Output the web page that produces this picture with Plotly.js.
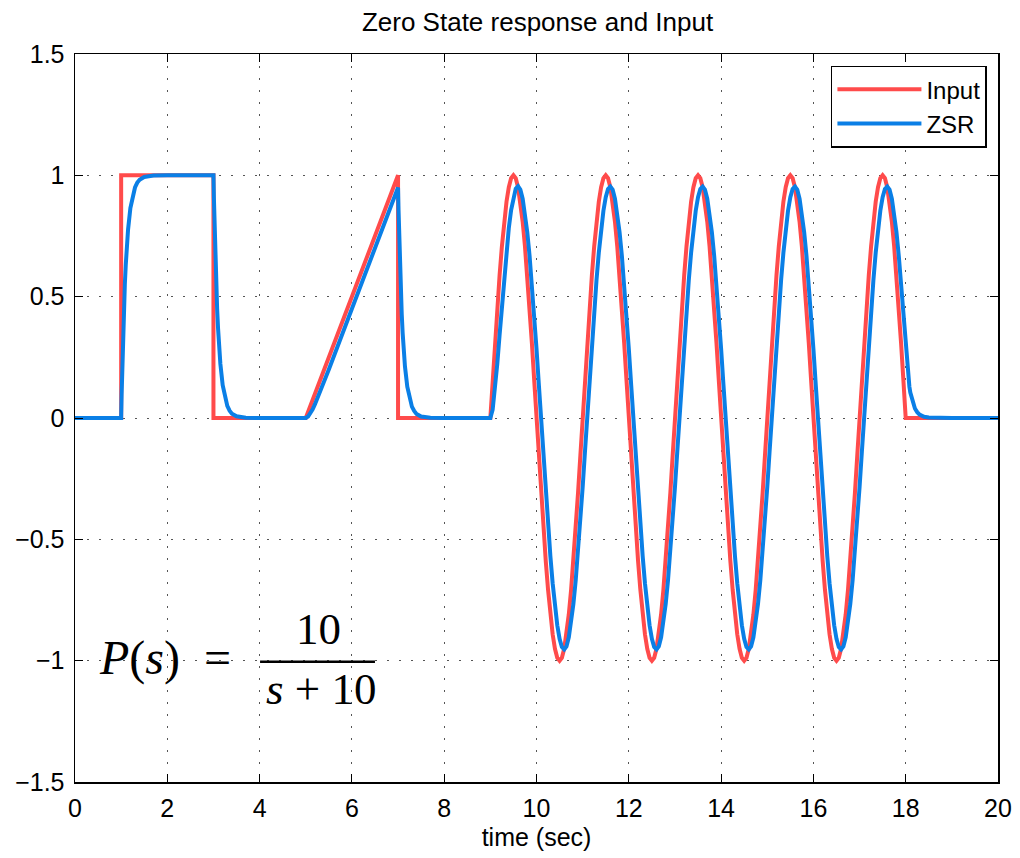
<!DOCTYPE html>
<html>
<head>
<meta charset="utf-8">
<script src="https://cdn.plot.ly/plotly-3.0.1.min.js"></script>
<style>html,body{margin:0;padding:0;background:#fff;}#chart{width:1020px;height:858px;}</style>
</head>
<body>
<div id="chart"></div>
<script>
// ---- Data ----
// Input: piecewise part (step, ramp) before the sinusoid
const tInputA = [0, 1, 1, 3, 3, 5, 7, 7];
const inputA  = [0, 0, 1, 1, 0, 0, 1, 0];
// Common time base for the sinusoidal section (9 s .. 18 s)
const tSine = [
  9,9.05,9.1,9.15,9.2,9.25,9.3,9.35,9.4,9.45,9.5,9.55,9.6,9.65,9.7,9.75,9.8,9.85,9.9,9.95,
  10,10.05,10.1,10.15,10.2,10.25,10.3,10.35,10.4,10.45,10.5,10.55,10.6,10.65,10.7,10.75,10.8,10.85,10.9,10.95,
  11,11.05,11.1,11.15,11.2,11.25,11.3,11.35,11.4,11.45,11.5,11.55,11.6,11.65,11.7,11.75,11.8,11.85,11.9,11.95,
  12,12.05,12.1,12.15,12.2,12.25,12.3,12.35,12.4,12.45,12.5,12.55,12.6,12.65,12.7,12.75,12.8,12.85,12.9,12.95,
  13,13.05,13.1,13.15,13.2,13.25,13.3,13.35,13.4,13.45,13.5,13.55,13.6,13.65,13.7,13.75,13.8,13.85,13.9,13.95,
  14,14.05,14.1,14.15,14.2,14.25,14.3,14.35,14.4,14.45,14.5,14.55,14.6,14.65,14.7,14.75,14.8,14.85,14.9,14.95,
  15,15.05,15.1,15.15,15.2,15.25,15.3,15.35,15.4,15.45,15.5,15.55,15.6,15.65,15.7,15.75,15.8,15.85,15.9,15.95,
  16,16.05,16.1,16.15,16.2,16.25,16.3,16.35,16.4,16.45,16.5,16.55,16.6,16.65,16.7,16.75,16.8,16.85,16.9,16.95,
  17,17.05,17.1,17.15,17.2,17.25,17.3,17.35,17.4,17.45,17.5,17.55,17.6,17.65,17.7,17.75,17.8,17.85,17.9,17.95,
  18
];
const inputSine = [
  0,0.156,0.309,0.454,0.588,0.707,0.809,0.891,0.951,0.988,1,0.988,0.951,0.891,0.809,0.707,0.588,0.454,0.309,0.156,
  0,-0.156,-0.309,-0.454,-0.588,-0.707,-0.809,-0.891,-0.951,-0.988,-1,-0.988,-0.951,-0.891,-0.809,-0.707,-0.588,-0.454,-0.309,-0.156,
  0,0.156,0.309,0.454,0.588,0.707,0.809,0.891,0.951,0.988,1,0.988,0.951,0.891,0.809,0.707,0.588,0.454,0.309,0.156,
  0,-0.156,-0.309,-0.454,-0.588,-0.707,-0.809,-0.891,-0.951,-0.988,-1,-0.988,-0.951,-0.891,-0.809,-0.707,-0.588,-0.454,-0.309,-0.156,
  0,0.156,0.309,0.454,0.588,0.707,0.809,0.891,0.951,0.988,1,0.988,0.951,0.891,0.809,0.707,0.588,0.454,0.309,0.156,
  0,-0.156,-0.309,-0.454,-0.588,-0.707,-0.809,-0.891,-0.951,-0.988,-1,-0.988,-0.951,-0.891,-0.809,-0.707,-0.588,-0.454,-0.309,-0.156,
  0,0.156,0.309,0.454,0.588,0.707,0.809,0.891,0.951,0.988,1,0.988,0.951,0.891,0.809,0.707,0.588,0.454,0.309,0.156,
  0,-0.156,-0.309,-0.454,-0.588,-0.707,-0.809,-0.891,-0.951,-0.988,-1,-0.988,-0.951,-0.891,-0.809,-0.707,-0.588,-0.454,-0.309,-0.156,
  0,0.156,0.309,0.454,0.588,0.707,0.809,0.891,0.951,0.988,1,0.988,0.951,0.891,0.809,0.707,0.588,0.454,0.309,0.156,
  0
];
const tInputB = [20];
const inputB  = [0];

// Zero state response: step and ramp section
const tZsrA = [0,1,1.01,1.02,1.03,1.04,1.05,1.06,1.08,1.1,1.12,1.15,1.2,1.25,1.3,1.35,1.4,1.5,1.7,2,
  3,3.01,3.02,3.03,3.04,3.05,3.06,3.08,3.1,3.12,3.15,3.2,3.25,3.3,3.35,3.4,3.5,3.7,4,
  5,5.05,5.1,5.15,5.2,5.3,5.4,5.5,6,6.5,7,
  7.01,7.02,7.03,7.04,7.05,7.06,7.08,7.1,7.12,7.15,7.2,7.25,7.3,7.35,7.4,7.5,7.7,8];
const zsrA = [0,0,0.095,0.181,0.259,0.330,0.393,0.451,0.551,0.632,0.699,0.777,0.865,0.918,0.950,0.970,0.982,0.993,0.999,1,
  1,0.905,0.819,0.741,0.670,0.607,0.549,0.449,0.368,0.301,0.223,0.135,0.082,0.050,0.030,0.018,0.007,0.001,0,
  0,0.006,0.018,0.036,0.057,0.103,0.151,0.200,0.450,0.700,0.950,
  0.860,0.778,0.704,0.637,0.576,0.521,0.427,0.350,0.286,0.212,0.129,0.078,0.047,0.029,0.017,0.006,0.001,0];
// Zero state response over the sinusoid (same times as tSine)
const zsrSine = [
  0,0.034,0.115,0.222,0.342,0.465,0.582,0.690,0.783,0.857,0.912,0.945,0.955,0.941,
  0.904,0.846,0.766,0.668,0.553,0.425,0.286,0.140,
  -0.009,-0.158,-0.304,-0.441,-0.568,-0.681,-0.777,-0.854,-0.910,-0.944,-0.954,-0.941,-0.904,-0.846,-0.766,-0.668,-0.553,-0.425,-0.286,-0.140,
  0.009,0.158,0.304,0.441,0.568,0.681,0.777,0.854,0.910,0.944,0.954,0.941,0.904,0.846,0.766,0.668,0.553,0.425,0.286,0.140,
  -0.009,-0.158,-0.304,-0.441,-0.568,-0.681,-0.777,-0.854,-0.910,-0.944,-0.954,-0.941,-0.904,-0.846,-0.766,-0.668,-0.553,-0.425,-0.286,-0.140,
  0.009,0.158,0.304,0.441,0.568,0.681,0.777,0.854,0.910,0.944,0.954,0.941,0.904,0.846,0.766,0.668,0.553,0.425,0.286,0.140,
  -0.009,-0.158,-0.304,-0.441,-0.568,-0.681,-0.777,-0.854,-0.910,-0.944,-0.954,-0.941,-0.904,-0.846,-0.766,-0.668,-0.553,-0.425,-0.286,-0.140,
  0.009,0.158,0.304,0.441,0.568,0.681,0.777,0.854,0.910,0.944,0.954,0.941,0.904,0.846,0.766,0.668,0.553,0.425,0.286,0.140,
  -0.009,-0.158,-0.304,-0.441,-0.568,-0.681,-0.777,-0.854,-0.910,-0.944,-0.954,-0.941,-0.904,-0.846,-0.766,-0.668,-0.553,-0.425,-0.286,-0.140,
  0.009,0.158,0.304,0.441,0.568,0.681,0.777,0.854,0.910,0.944,0.954,0.941,0.904,0.846,0.766,0.668,0.553,0.425,0.286
];
// Decay after the input stops
const tZsrB = [18.02,18.05,18.08,18.1,18.15,18.2,18.25,18.3,18.4,18.5,19,20];
const zsrB  = [0.234,0.174,0.129,0.105,0.064,0.039,0.024,0.014,0.005,0.002,0,0];

const xTickVals = [0,2,4,6,8,10,12,14,16,18,20];
const yTickVals = [-1.5,-1,-0.5,0,0.5,1,1.5];
const yTickText = ['\u22121.5','\u22121','\u22120.5','0','0.5','1','1.5'];

const seriesNames = ['Input','ZSR'];
const titleText = 'Zero State response and Input';
const xLabel = 'time (sec)';

// ---- Build traces ----
const tInput = tInputA.concat(tSine, tInputB);
const yInput = inputA.concat(inputSine, inputB);
const tZsr = tZsrA.concat(tSine, tZsrB);
const yZsr = zsrA.concat(zsrSine, zsrB);

const SANS = 'Liberation Sans, Arial, Helvetica, sans-serif';
const SERIF = 'Liberation Serif, Times New Roman, serif';

const traces = [
  {x: tInput, y: yInput, name: seriesNames[0], type: 'scatter', mode: 'lines',
   line: {color: '#FF4B4B', width: 4}},
  {x: tZsr, y: yZsr, name: seriesNames[1], type: 'scatter', mode: 'lines',
   line: {color: '#0A7FE6', width: 4}}
];

const axisCommon = {
  showline: true, linecolor: '#000', linewidth: 1.5, mirror: 'allticks',
  ticks: 'inside', ticklen: 8, tickwidth: 1, tickcolor: '#000',
  showgrid: true, gridcolor: '#555', gridwidth: 1, griddash: '2px,10px',
  zeroline: false, tickfont: {family: SANS, size: 25, color: '#000'}
};

const layout = {
  width: 1020, height: 858,
  margin: {l: 75, r: 22, t: 54, b: 76},
  paper_bgcolor: '#fff', plot_bgcolor: '#fff',
  font: {family: SANS, color: '#000'},
  title: {text: titleText, font: {family: SANS, size: 26, color: '#000'},
          x: 0.527, xanchor: 'center', y: 0.974, yref: 'container', yanchor: 'middle'},
  xaxis: Object.assign({}, axisCommon, {
    range: [0, 20], tickvals: xTickVals, ticklabelstandoff: 3,
    title: {text: xLabel, font: {family: SANS, size: 25, color: '#000'}, standoff: 8}
  }),
  yaxis: Object.assign({}, axisCommon, {
    range: [-1.5, 1.5], tickvals: yTickVals, ticktext: yTickText, ticklabelstandoff: 4
  }),
  showlegend: true,
  legend: {x: 0.988, y: 0.984, xanchor: 'right', yanchor: 'top',
           bgcolor: '#fff', bordercolor: '#000', borderwidth: 1.5,
           font: {family: SANS, size: 24, color: '#000'}, itemwidth: 84,
           entrywidth: 86, tracegroupgap: 0},
  annotations: [
    {x: 0.47, y: -0.99, xref: 'x', yref: 'y', xanchor: 'left', yanchor: 'middle', showarrow: false,
     text: '<i>P</i>(<i>s</i>)\u00A0\u00A0=', font: {family: SERIF, size: 48, color: '#000'}},
    {x: 5.27, y: -0.87, xref: 'x', yref: 'y', xanchor: 'center', yanchor: 'middle', showarrow: false,
     text: '10', font: {family: SERIF, size: 45, color: '#000'}},
    {x: 5.33, y: -1.115, xref: 'x', yref: 'y', xanchor: 'center', yanchor: 'middle', showarrow: false,
     text: '<i>s</i>\u00A0+\u00A010', font: {family: SERIF, size: 45, color: '#000'}}
  ],
  shapes: [
    {type: 'line', xref: 'x', yref: 'y', x0: 4.01, x1: 6.5, y0: -1.004, y1: -1.004,
     line: {color: '#000', width: 2.5}}
  ]
};

Plotly.newPlot('chart', traces, layout, {displayModeBar: false, staticPlot: true});
</script>
</body>
</html>
